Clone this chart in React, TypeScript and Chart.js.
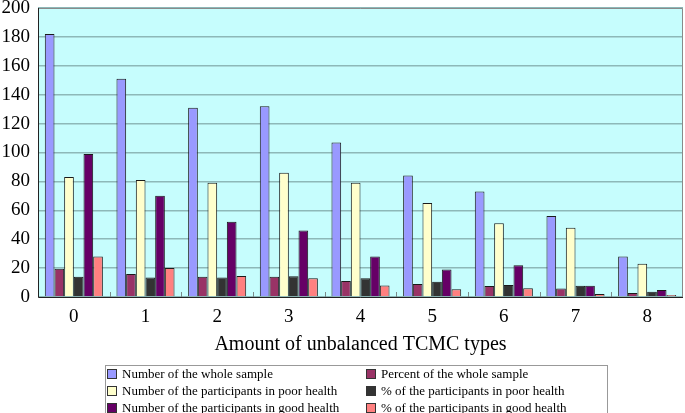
import React, { useEffect, useRef } from "react";
import { Chart, registerables } from "chart.js";

Chart.register(...registerables);

const categories = ["0", "1", "2", "3", "4", "5", "6", "7", "8"];
const wholeSample = [182, 151, 131, 132, 107, 84, 73, 56, 28];
const pctWhole = [19.5, 16, 14, 14, 11, 9, 7.6, 5.8, 2.8];
const poorHealth = [83, 81, 79, 86, 79, 65, 51, 48, 23];
const pctPoor = [14, 13.5, 13.5, 14.3, 13, 10.6, 8.3, 7.8, 3.7];
const goodHealth = [99, 70, 52, 46, 28, 19, 22, 7.8, 4.9];
const pctGood = [28, 20, 14.5, 13, 8, 5.3, 6, 2, 1.4];
const yTicks = [0, 20, 40, 60, 80, 100, 120, 140, 160, 180, 200];

const seriesNames = [
  "Number of the whole sample",
  "Percent of the whole sample",
  "Number of the participants in poor health",
  "% of the participants in poor health",
  "Number of the participants in good health",
  "% of the participants in good health",
];
const seriesColors = ["#9999FF", "#993366", "#FFFFCC", "#333333", "#660066", "#FF8080"];
const seriesData = [wholeSample, pctWhole, poorHealth, pctPoor, goodHealth, pctGood];

const SERIF = "'Liberation Serif', 'Times New Roman', serif";

const plotDecor = {
  id: "plotDecor",
  beforeDraw(chart: any) {
    const { ctx, chartArea } = chart;
    ctx.save();
    ctx.fillStyle = "#C6FDFD";
    ctx.fillRect(chartArea.left, chartArea.top, chartArea.right - chartArea.left, chartArea.bottom - chartArea.top);
    ctx.restore();
  },
  afterDraw(chart: any) {
    const { ctx, chartArea, scales } = chart;
    const x = scales.x;
    ctx.save();
    ctx.strokeStyle = "#8A8A8A";
    ctx.lineWidth = 1;
    ctx.beginPath();
    ctx.moveTo(chartArea.left, chartArea.top + 0.5);
    ctx.lineTo(chartArea.right - 0.5, chartArea.top + 0.5);
    ctx.lineTo(chartArea.right - 0.5, chartArea.bottom);
    ctx.stroke();
    ctx.strokeStyle = "#7A8A8A";
    const n = categories.length;
    const step = (chartArea.right - chartArea.left) / n;
    for (let i = 1; i < n; i++) {
      const px = Math.round(x.getPixelForValue(i) - step / 2) + 0.5;
      ctx.beginPath();
      ctx.moveTo(px, chartArea.bottom);
      ctx.lineTo(px, chartArea.bottom - 5);
      ctx.stroke();
    }
    ctx.strokeStyle = "#222";
    ctx.beginPath();
    ctx.moveTo(chartArea.left + 0.5, chartArea.top);
    ctx.lineTo(chartArea.left + 0.5, chartArea.bottom + 0.5);
    ctx.lineTo(chartArea.right, chartArea.bottom + 0.5);
    ctx.stroke();
    ctx.restore();
  },
};

export default function App() {
  const ref = useRef<HTMLCanvasElement | null>(null);

  useEffect(() => {
    if (!ref.current) return;
    const chart = new Chart(ref.current, {
      type: "bar",
      data: {
        labels: categories,
        datasets: seriesData.map((d, i) => ({
          label: seriesNames[i],
          data: d,
          backgroundColor: seriesColors[i],
          borderColor: "#1a1a1a",
          borderWidth: 1,
          categoryPercentage: 0.81,
          barPercentage: 1.0,
        })),
      },
      options: {
        responsive: false,
        animation: false,
        layout: { padding: { top: 8, right: 2, bottom: 56, left: 0 } },
        plugins: {
          legend: { display: false },
          tooltip: { enabled: false },
        },
        scales: {
          x: {
            grid: { display: false },
            border: { display: false },
            ticks: { color: "#000", font: { family: SERIF, size: 19 }, padding: 1 },
            title: {
              display: true,
              text: "Amount of unbalanced TCMC types",
              color: "#000",
              font: { family: SERIF, size: 20 },
              padding: { top: 0, bottom: 0 },
            },
            afterFit: (s: any) => {
              s.height = 60;
              s.paddingLeft = 0;
              s.paddingRight = 0;
            },
          },
          y: {
            min: 0,
            max: 200,
            afterBuildTicks: (s: any) => {
              s.ticks = yTicks.map((v) => ({ value: v }));
            },
            grid: { color: "#8DB8B8", lineWidth: 1.5, drawTicks: false },
            border: { display: false },
            ticks: { color: "#000", font: { family: SERIF, size: 19 }, padding: 8 },
            afterFit: (s: any) => {
              s.width = 38;
              s.paddingTop = 0;
              s.paddingBottom = 0;
            },
          },
        },
      },
      plugins: [plotDecor],
    });
    return () => chart.destroy();
  }, []);

  return (
    <div style={{ position: "absolute", left: 0, top: 0, width: 685, height: 413, background: "#fff", overflow: "hidden" }}>
      <canvas ref={ref} width={685} height={413} style={{ display: "block" }} />
      <div
        style={{
          position: "absolute",
          left: 105,
          top: 365,
          width: 503,
          height: 60,
          border: "1px solid #999",
          fontFamily: SERIF,
          fontSize: 13,
          color: "#000",
          boxSizing: "border-box",
        }}
      >
        {seriesNames.map((name, i) => {
          const col = i % 2;
          const row = Math.floor(i / 2);
          return (
            <div
              key={name}
              style={{
                position: "absolute",
                left: col === 0 ? 1 : 260,
                top: row * 17 - 1,
                height: 17,
                lineHeight: "17px",
                whiteSpace: "nowrap",
                display: "flex",
                alignItems: "center",
              }}
            >
              <span
                style={{
                  display: "inline-block",
                  width: 8,
                  height: 8,
                  background: seriesColors[i],
                  border: "1px solid #333",
                  marginRight: 5,
                }}
              />
              <span>{name}</span>
            </div>
          );
        })}
      </div>
    </div>
  );
}
